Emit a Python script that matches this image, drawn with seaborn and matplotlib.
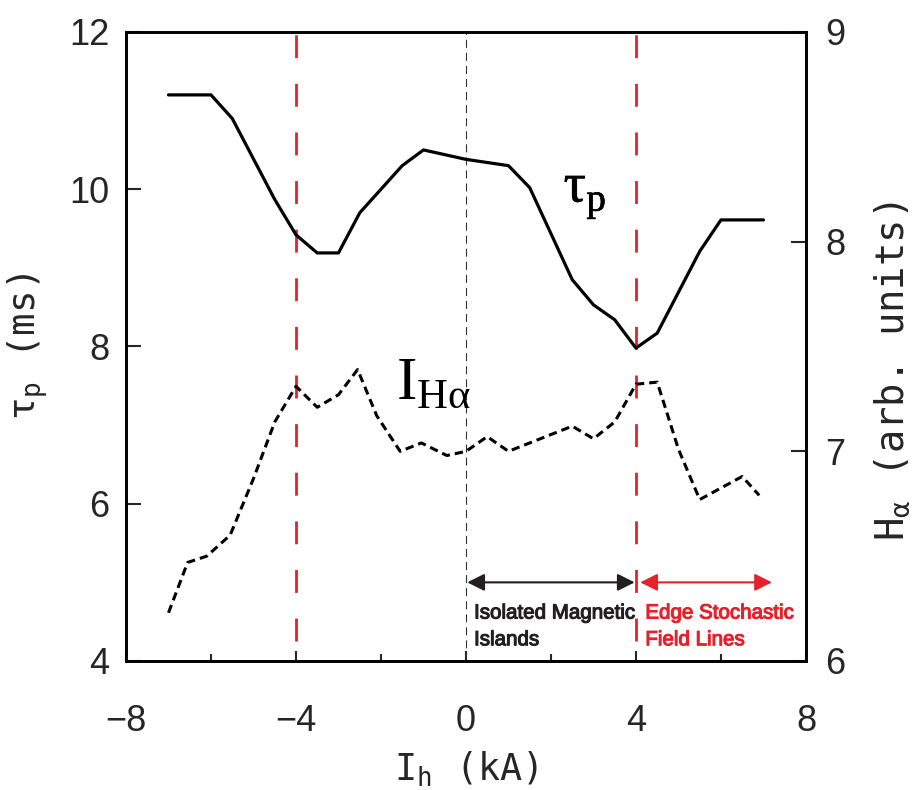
import matplotlib
matplotlib.use("Agg")
import matplotlib.pyplot as plt
import matplotlib.patheffects as pe
import seaborn as sns

# Particle confinement time tau_p versus helical current I_h
current_tau = [-7, -6, -5.5, -4.5, -4, -3.5, -3, -2.5, -1.5, -1, 0, 1, 1.5,
               2.5, 3, 3.5, 4, 4.5, 5.5, 6, 7]
tau_p = [11.2, 11.2, 10.9, 9.87, 9.42, 9.19, 9.19, 9.7, 10.3, 10.5, 10.38,
         10.3, 10.02, 8.85, 8.53, 8.34, 7.98, 8.17, 9.21, 9.61, 9.61]

# H-alpha intensity (arb. units) versus helical current
current_ha = [-7, -6.55, -6.1, -5.55, -5, -4.5, -4, -3.5, -3, -2.55, -2.1,
              -1.55, -1.05, -0.45, 0, 0.5, 1, 2.5, 3, 3.5, 4, 4.5, 5, 5.5,
              6.5, 6.9]
h_alpha = [6.23, 6.47, 6.50, 6.60, 6.87, 7.14, 7.31, 7.21, 7.27, 7.39, 7.17,
           7.00, 7.04, 6.98, 7.00, 7.07, 7.00, 7.12, 7.06, 7.14, 7.32, 7.33,
           7.01, 6.77, 6.88, 6.79]

x_ticks = [-8, -4, 0, 4, 8]
x_minor = [-6, -2, 2, 6]
left_ticks = [4, 6, 8, 10, 12]
right_ticks = [6, 7, 8, 9]
boundaries = [-4, 4]

sns.set_style("ticks")
plt.rcParams["font.family"] = ["Liberation Sans", "DejaVu Sans"]
plt.rcParams["lines.scale_dashes"] = False
# rm: axis-label subscripts, sf: serif curve labels
plt.rcParams["mathtext.fontset"] = "custom"
plt.rcParams["mathtext.rm"] = "DejaVu Sans Mono"
plt.rcParams["mathtext.it"] = "DejaVu Sans Mono"
plt.rcParams["mathtext.sf"] = "Liberation Serif"

RED = "#e3222b"
INK = "#231f20"

fig = plt.figure(figsize=(9.17, 7.90), dpi=100)
ax = fig.add_axes([0.1374, 0.1633, 0.7415, 0.7962])
ax2 = ax.twinx()

sns.lineplot(x=current_tau, y=tau_p, ax=ax, color="black", linewidth=2.3)
sns.lineplot(x=current_ha, y=h_alpha, ax=ax2, color="black", linewidth=2.2)
ax2.lines[0].set_dashes([6.0, 3.6])

ax.set_xlim(-8, 8)
ax.set_ylim(4, 12)
ax2.set_ylim(6, 9)

# region boundaries
for b in boundaries:
    ax.axvline(b, ymin=0.032, ymax=1.0, color=RED, linewidth=2.0,
               dashes=[16.5, 18.5], zorder=1)
ax.axvline(0, color="#333333", linewidth=0.8, dashes=[5.8, 3.6], zorder=1)

# region arrows
ax.annotate("", xy=(0.03, 5.0), xytext=(3.97, 5.0),
            arrowprops=dict(arrowstyle="<|-|>", color=INK, lw=1.5,
                            mutation_scale=26, shrinkA=0, shrinkB=0))
ax.annotate("", xy=(4.1, 5.0), xytext=(7.2, 5.0),
            arrowprops=dict(arrowstyle="<|-|>", color=RED, lw=1.5,
                            mutation_scale=26, shrinkA=0, shrinkB=0))


def region_text(x, lines, color):
    for y, s in zip((4.54, 4.20), lines):
        ax.text(x, y, s, ha="left", va="baseline", fontsize=14.8,
                color=color,
                path_effects=[pe.withStroke(linewidth=0.8, foreground=color)])


region_text(0.19, ["Isolated Magnetic", "Islands"], INK)
region_text(4.22, ["Edge Stochastic", "Field Lines"], RED)

# curve labels
ax.text(2.8, 9.92, r"τ$_\mathsf{p}$", ha="center", va="center",
        fontsize=40, family="Liberation Serif", math_fontfamily="custom",
        color="black",
        path_effects=[pe.withStroke(linewidth=0.5, foreground="black")])
ax2.text(-1.65, 7.25, r"I$_{\mathsf{H}\mathsf{α}}$", ha="left",
         va="baseline", fontsize=44, family="Liberation Serif",
         math_fontfamily="custom", color="black")

# axes styling
ax.set_xticks(x_ticks)
ax.set_xticks(x_minor, minor=True)
ax.set_yticks(left_ticks)
ax2.set_yticks(right_ticks)
ax.tick_params(axis="x", which="major", direction="in", length=7, width=1.5,
               labelsize=26, pad=31, top=False)
ax.tick_params(axis="x", which="minor", direction="in", length=5, width=1.5,
               top=False)
ax.tick_params(axis="y", direction="in", length=11, width=1.5, labelsize=26,
               pad=12, right=False)
ax2.tick_params(axis="y", direction="in", length=11, width=1.5, labelsize=26,
                pad=14)
for a in (ax, ax2):
    for s in a.spines.values():
        s.set_linewidth(1.9)
        s.set_color("black")

ax.set_xlabel(r"I$_\mathrm{h}$ (kA)", family="DejaVu Sans Mono", fontsize=26.5,
              labelpad=8)
ax.set_ylabel(r"τ$_\mathrm{p}$ (ms)", family="DejaVu Sans Mono", fontsize=27)
ax2.set_ylabel(r"H$_\alpha$ (arb. units)", family="DejaVu Sans Mono",
               fontsize=28, rotation=90)
ax.yaxis.set_label_coords(-0.112, 0.5)
ax2.yaxis.set_label_coords(1.098, 0.46)

fig.savefig("out.png", dpi=100)
